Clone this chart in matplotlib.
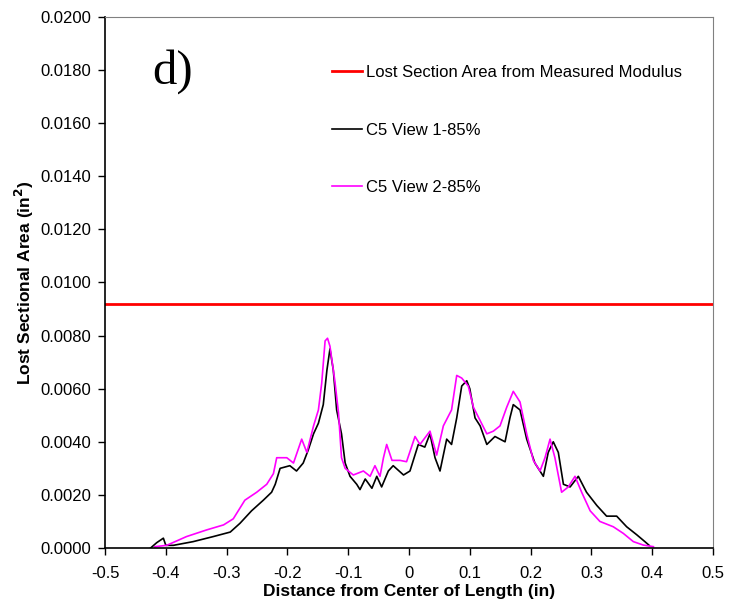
import matplotlib
matplotlib.use("Agg")
import matplotlib.pyplot as plt

plt.rcParams['font.family'] = ['Liberation Sans', 'DejaVu Sans']

# lost area from measured modulus (constant)
modulus_area = 0.0092

# C5 View 1-85% (black)
x_view1 = [-0.425, -0.415, -0.404, -0.400, -0.3876, -0.355, -0.322, -0.294, -0.278, -0.259,
           -0.2396, -0.226, -0.220, -0.212, -0.196, -0.185, -0.174, -0.1656, -0.157, -0.149,
           -0.141, -0.135, -0.130, -0.1245, -0.119, -0.111, -0.105, -0.097, -0.086, -0.0806,
           -0.072, -0.061, -0.053, -0.045, -0.034, -0.026, -0.009, 0.0016, 0.0153, 0.026,
           0.0345, 0.0428, 0.051, 0.062, 0.070, 0.0785, 0.0867, 0.095, 0.100, 0.1086,
           0.117, 0.128, 0.1414, 0.158, 0.166, 0.1715, 0.1826, 0.1936, 0.207, 0.221,
           0.229, 0.2373, 0.2456, 0.254, 0.265, 0.2785, 0.292, 0.309, 0.325, 0.3416,
           0.358, 0.3745, 0.388, 0.395]
y_view1 = [0.0000, 0.0002, 0.00037, 0.0001, 0.0001, 0.00024, 0.00043, 0.0006, 0.00093, 0.0014,
           0.0018, 0.0021, 0.0024, 0.0030, 0.0031, 0.0029, 0.0032, 0.0037, 0.0043, 0.0047,
           0.0054, 0.0067, 0.0075, 0.0067, 0.0052, 0.0043, 0.0032, 0.0027, 0.0024, 0.0022,
           0.0026, 0.00225, 0.0027, 0.0023, 0.0029, 0.0031, 0.00275, 0.0029, 0.0039, 0.0038,
           0.0043, 0.0034, 0.0029, 0.0041, 0.0039, 0.0049, 0.0061, 0.0063, 0.0060, 0.0049,
           0.0046, 0.0039, 0.0042, 0.0040, 0.0049, 0.0054, 0.0052, 0.0041, 0.0032, 0.0027,
           0.0036, 0.0040, 0.0036, 0.0024, 0.0023, 0.0027, 0.0021, 0.0016, 0.0012, 0.0012,
           0.0008, 0.0005, 0.00024, 0.0001]

# C5 View 2-85% (magenta)
x_view2 = [-0.418, -0.3985, -0.366, -0.333, -0.305, -0.289, -0.270, -0.2505, -0.234, -0.223,
           -0.2176, -0.201, -0.190, -0.1765, -0.168, -0.157, -0.149, -0.1436, -0.138, -0.134,
           -0.130, -0.122, -0.116, -0.111, -0.105, -0.0916, -0.075, -0.064, -0.056, -0.0477,
           -0.042, -0.0367, -0.028, -0.0148, -0.004, 0.0099, 0.018, 0.0345, 0.0455, 0.0565,
           0.070, 0.0785, 0.0867, 0.0975, 0.106, 0.117, 0.128, 0.1387, 0.1497, 0.1607,
           0.1715, 0.1826, 0.1936, 0.2045, 0.2155, 0.2237, 0.232, 0.240, 0.251, 0.262,
           0.273, 0.284, 0.298, 0.314, 0.336, 0.3525, 0.369, 0.3854, 0.402]
y_view2 = [0.00005, 0.0001, 0.00043, 0.00068, 0.00087, 0.0011, 0.0018, 0.0021, 0.0024, 0.0028,
           0.0034, 0.0034, 0.0032, 0.0041, 0.0036, 0.0046, 0.0052, 0.0062, 0.0078, 0.0079,
           0.0076, 0.0063, 0.0051, 0.0034, 0.0030, 0.00275, 0.0029, 0.0027, 0.0031, 0.0027,
           0.0034, 0.0039, 0.0033, 0.0033, 0.00325, 0.0042, 0.0039, 0.0044, 0.0035, 0.0046,
           0.0052, 0.0065, 0.0064, 0.0061, 0.0053, 0.0048, 0.0043, 0.0044, 0.0046, 0.0053,
           0.0059, 0.0055, 0.0043, 0.0033, 0.0029, 0.0034, 0.0041, 0.0034, 0.0021, 0.0023,
           0.0027, 0.0021, 0.0014, 0.0010, 0.0008, 0.00055, 0.00024, 0.00011, 0.00005]

x_ticks = [-0.5, -0.4, -0.3, -0.2, -0.1, 0, 0.1, 0.2, 0.3, 0.4, 0.5]
x_tick_labels = ['-0.5', '-0.4', '-0.3', '-0.2', '-0.1', '0', '0.1', '0.2', '0.3', '0.4', '0.5']
y_ticks = [0.0, 0.002, 0.004, 0.006, 0.008, 0.010, 0.012, 0.014, 0.016, 0.018, 0.020]

fig = plt.figure(figsize=(7.4, 6.02), dpi=100)
ax = fig.add_axes([0.1419, 0.0897, 0.8216, 0.8821])

ax.axhline(modulus_area, color='#ff0000', lw=2.0, label='Lost Section Area from Measured Modulus')
ax.plot(x_view1, y_view1, color='black', lw=1.2, label='C5 View 1-85%')
ax.plot(x_view2, y_view2, color='#ff00ff', lw=1.2, label='C5 View 2-85%')

ax.set_xlim(-0.5, 0.5)
ax.set_ylim(0, 0.02)
ax.set_xticks(x_ticks)
ax.set_xticklabels(x_tick_labels)
ax.set_yticks(y_ticks)
ax.set_yticklabels(['%.4f' % v for v in y_ticks])
ax.tick_params(direction='out', length=5, width=1, labelsize=12, colors='black')
ax.tick_params(axis='x', pad=8)
ax.tick_params(axis='y', pad=5)

for side in ['top', 'right']:
    ax.spines[side].set_color('#808080')
for side in ['left', 'bottom']:
    ax.spines[side].set_color('black')
    ax.spines[side].set_linewidth(1.2)

ax.set_xlabel('Distance from Center of Length (in)', fontsize=12.5, fontweight='bold', labelpad=2)
ax.set_ylabel('Lost Sectional Area (in$^\\mathbf{2}$)', fontsize=12.5, fontweight='bold', labelpad=3)

ax.text(0.077, 0.897, 'd)', transform=ax.transAxes, fontsize=35,
        family='Liberation Serif', va='center', ha='left')

ax.legend(loc='upper left', bbox_to_anchor=(0.36, 0.925), frameon=False,
          fontsize=12, labelspacing=2.55, handlelength=1.8, handletextpad=0.25,
          borderpad=0)

fig.savefig('out.png', dpi=100)
